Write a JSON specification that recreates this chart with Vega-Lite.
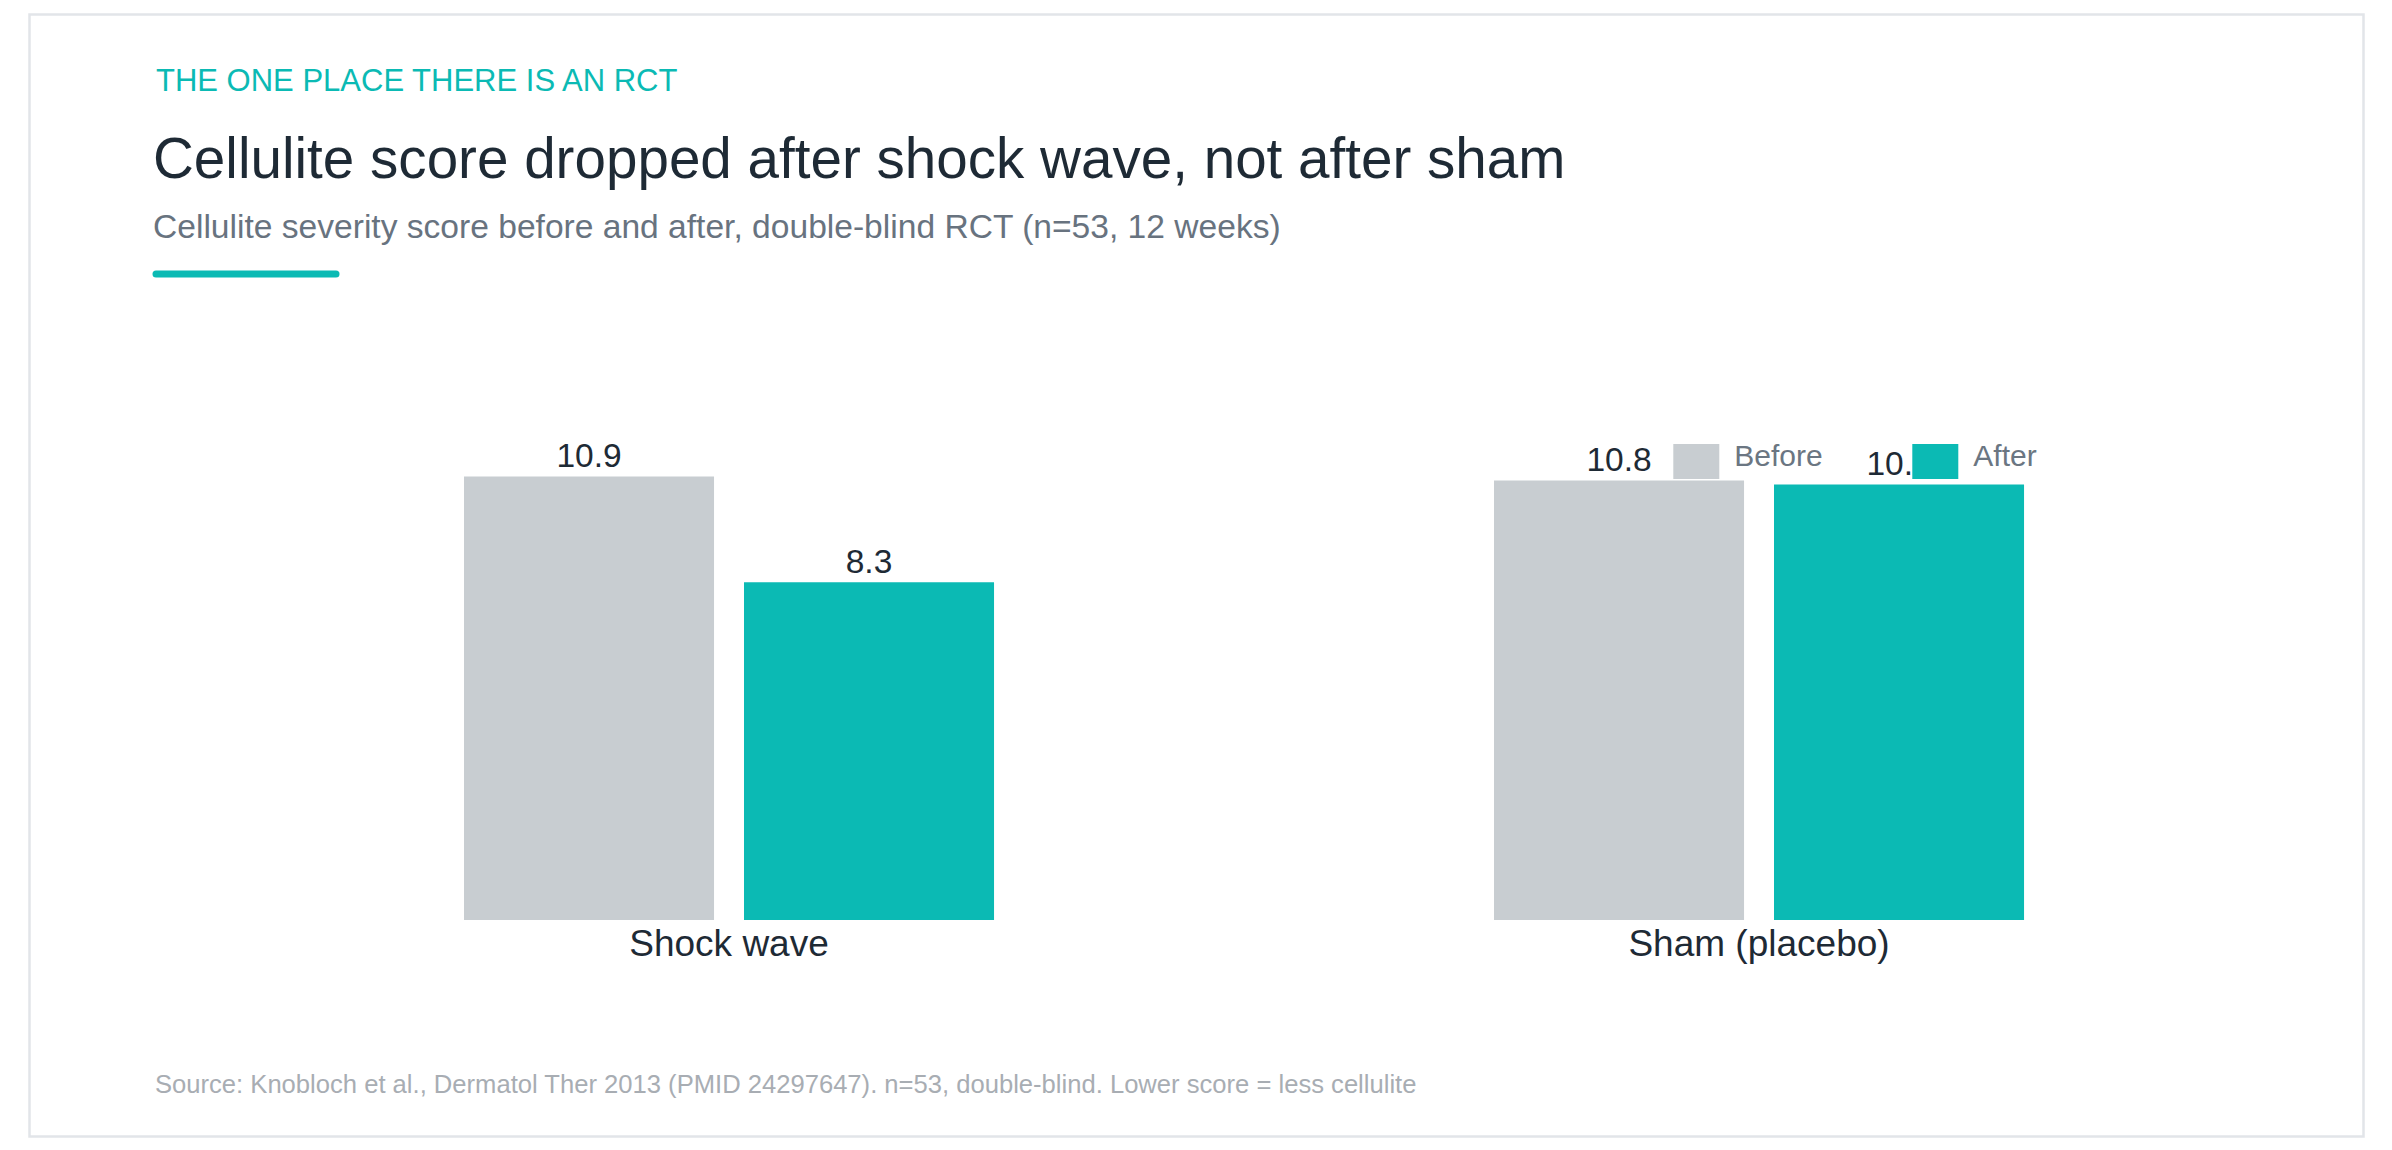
{
  "$schema": "https://vega.github.io/schema/vega-lite/v6.json",
  "width": 2334,
  "height": 1122,
  "autosize": {"type": "none"},
  "padding": {"left": 29.5, "top": 14.5, "right": 28.5, "bottom": 13.5},
  "background": "#ffffff",
  "config": {
    "font": "Liberation Sans",
    "view": {"stroke": "#e2e5e9", "strokeWidth": 2.5}
  },
  "title": {
    "text": "Cellulite score dropped after shock wave, not after sham",
    "subtitle": "Cellulite severity score before and after, double-blind RCT (n=53, 12 weeks)",
    "anchor": "start",
    "frame": "group",
    "orient": "top",
    "offset": -229.6,
    "dx": 123.5,
    "fontSize": 56.6,
    "fontWeight": "normal",
    "color": "#1e2a35",
    "subtitleFontSize": 33.6,
    "subtitleColor": "#68737f",
    "subtitlePadding": 21
  },
  "data": {
    "values": [
      {"group": "Shock wave", "phase": "Before", "score": 10.9},
      {"group": "Shock wave", "phase": "After", "score": 8.3},
      {"group": "Sham (placebo)", "phase": "Before", "score": 10.8},
      {"group": "Sham (placebo)", "phase": "After", "score": 10.7}
    ]
  },
  "encoding": {
    "x": {
      "field": "group",
      "type": "nominal",
      "sort": ["Shock wave", "Sham (placebo)"],
      "scale": {"paddingInner": 0.4854, "paddingOuter": 0.3757, "align": 0.5614},
      "axis": {
        "title": "Source: Knobloch et al., Dermatol Ther 2013 (PMID 24297647). n=53, double-blind. Lower score = less cellulite",
        "labels": false,
        "ticks": false,
        "domain": false,
        "titleFontSize": 25.6,
        "titleFontWeight": "normal",
        "titleColor": "#a8adb3",
        "titleAngle": 0,
        "titleAlign": "left",
        "titleBaseline": "alphabetic",
        "titleX": 125,
        "titleY": -44.5
      }
    },
    "y": {
      "field": "score",
      "type": "quantitative",
      "scale": {"domain": [-5.32, 22.25], "nice": false, "zero": false},
      "axis": {
        "title": "THE ONE PLACE THERE IS AN RCT",
        "offset": -126,
        "values": [15.886],
        "labels": false,
        "domain": false,
        "grid": false,
        "tickSize": -180,
        "tickWidth": 7,
        "tickCap": "round",
        "tickColor": "#0bbab4",
        "titleFontSize": 31,
        "titleFontWeight": "normal",
        "titleColor": "#0bbab4",
        "titleAngle": 0,
        "titleAlign": "left",
        "titleBaseline": "alphabetic",
        "titleX": 0,
        "titleY": 76.2
      }
    }
  },
  "layer": [
    {
      "mark": {"type": "bar"},
      "encoding": {
        "xOffset": {
          "field": "phase",
          "type": "nominal",
          "sort": ["Before", "After"],
          "scale": {"paddingInner": 0.107, "paddingOuter": 0}
        },
        "y2": {"datum": 0},
        "color": {
          "field": "phase",
          "type": "nominal",
          "sort": ["Before", "After"],
          "scale": {"domain": ["Before", "After"], "range": ["#c8cdd1", "#0bbab4"]},
          "legend": {
            "title": null,
            "orient": "none",
            "legendX": 1643.8,
            "legendY": 419.5,
            "direction": "horizontal",
            "padding": 0,
            "symbolType": "M-1,-0.564H1V0.956H-1Z",
            "symbolSize": 2116,
            "symbolStrokeWidth": 0,
            "symbolOpacity": 1,
            "labelFontSize": 30,
            "labelColor": "#6b7682",
            "labelOffset": 15,
            "columnPadding": 89
          }
        }
      }
    },
    {
      "mark": {"type": "text", "baseline": "alphabetic", "dy": -9.5, "fontSize": 33.5, "color": "#1e2a35"},
      "encoding": {
        "xOffset": {"field": "phase", "type": "nominal", "sort": ["Before", "After"]},
        "text": {"field": "score", "type": "quantitative", "format": ".1f"}
      }
    },
    {
      "transform": [{"filter": "datum.phase === 'Before'"}],
      "mark": {"type": "text", "baseline": "alphabetic", "dy": 36, "fontSize": 37, "color": "#1e2a35"},
      "encoding": {
        "y": {"datum": 0},
        "text": {"field": "group", "type": "nominal"}
      }
    }
  ]
}
